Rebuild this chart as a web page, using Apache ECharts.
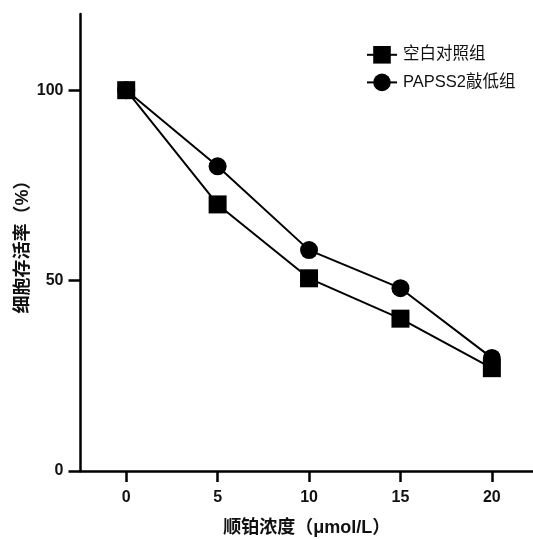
<!DOCTYPE html>
<html>
<head>
<meta charset="utf-8">
<script src="https://cdn.jsdelivr.net/npm/echarts@6/dist/echarts.min.js"></script>
<style>
  html, body { margin: 0; padding: 0; background: #fff; }
  #main { width: 533px; height: 540px; }
</style>
</head>
<body>
<div id="main"></div>
<script>
// concentrations and viability (%)
var doses = [0, 5, 10, 15, 20];
var controlVals = [100, 70, 50.6, 40, 27];
var knockdownVals = [100, 80, 58, 48, 29.7];
var xTicks = [0, 5, 10, 15, 20];
var yTicks = [0, 50, 100];
var seriesNames = ['空白对照组', 'PAPSS2敲低组'];

var font = 'Liberation Sans, Arial, Noto Sans CJK SC, sans-serif';

function pairs(xs, ys) {
  return xs.map(function (x, i) { return [x, ys[i]]; });
}

var myChart = echarts.init(document.getElementById('main'));

var option = {
  animation: false,
  backgroundColor: '#fff',
  grid: { left: 80.5, right: 0, top: 14, bottom: 69, containLabel: false, outerBoundsMode: 'none' },
  legend: {
    orient: 'vertical',
    left: 361,
    top: 41,
    itemWidth: 30,
    itemHeight: 22,
    itemGap: 10,
    data: seriesNames,
    textStyle: { fontFamily: font, fontSize: 16.5, color: '#111', padding: [0, 0, 0, 1] }
  },
  xAxis: {
    type: 'value',
    min: -2.5,
    max: 22.25,
    name: '顺铂浓度（μmol/L）',
    nameLocation: 'middle',
    nameGap: 48,
    nameMoveOverlap: false,
    nameTextStyle: { fontFamily: font, fontSize: 18, fontWeight: 'bold', color: '#111' },
    splitLine: { show: false },
    axisLine: { onZero: false, lineStyle: { color: '#000', width: 2.5 } },
    axisTick: { show: true, length: 11, lineStyle: { color: '#000', width: 2.5 }, customValues: xTicks },
    axisLabel: { fontFamily: font, fontSize: 16, fontWeight: 'bold', color: '#111', margin: 19, customValues: xTicks }
  },
  yAxis: {
    type: 'value',
    min: 0,
    max: 120,
    name: '细胞存活率（%）',
    nameLocation: 'middle',
    nameGap: 48,
    nameMoveOverlap: false,
    nameRotate: 90,
    nameTextStyle: { fontFamily: font, fontSize: 18, fontWeight: 'bold', color: '#111' },
    splitLine: { show: false },
    axisLine: { show: true, onZero: false, lineStyle: { color: '#000', width: 2.5 } },
    axisTick: { show: true, length: 12, lineStyle: { color: '#000', width: 2.5 }, customValues: yTicks },
    axisLabel: { fontFamily: font, fontSize: 16, fontWeight: 'bold', color: '#111', margin: 17, customValues: yTicks }
  },
  series: [
    {
      name: seriesNames[0],
      type: 'line',
      data: pairs(doses, controlVals),
      symbol: 'rect',
      symbolSize: 18,
      z: 3,
      lineStyle: { color: '#000', width: 2 },
      itemStyle: { color: '#000' }
    },
    {
      name: seriesNames[1],
      type: 'line',
      data: pairs(doses, knockdownVals),
      symbol: 'circle',
      symbolSize: 18,
      z: 2,
      lineStyle: { color: '#000', width: 2 },
      itemStyle: { color: '#000' }
    }
  ]
};

myChart.setOption(option);
</script>
</body>
</html>
